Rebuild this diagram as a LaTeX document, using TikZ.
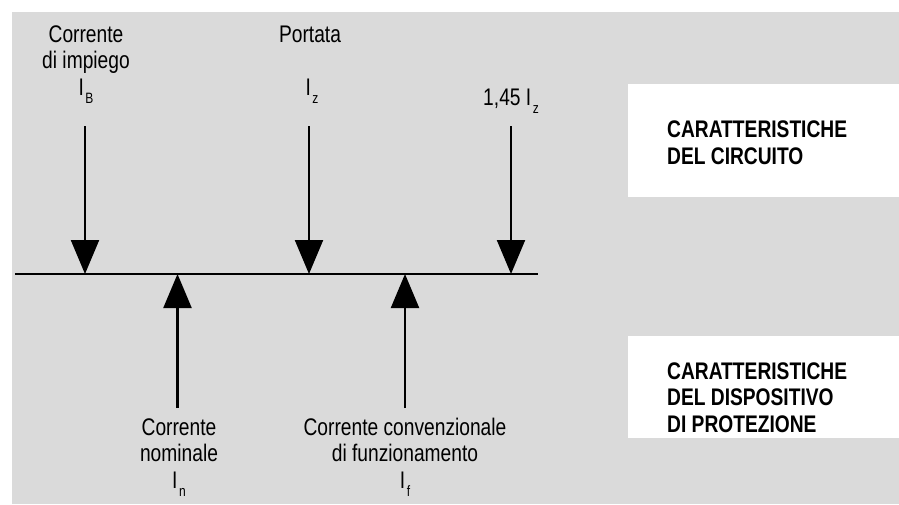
\documentclass[tikz,border=0pt]{standalone}
\usepackage{fontspec}
\setmainfont{Liberation Sans}[FakeStretch=0.8]
\usetikzlibrary{arrows.meta}
\definecolor{fondo}{RGB}{218,218,218}
\newcommand{\pedice}[1]{\kern1.5pt\raisebox{-8pt}{\fontsize{15}{15}\selectfont #1}}

\begin{document}
\begin{tikzpicture}[x=1pt,y=-1pt,
    freccia/.style={line width=2.2pt,-{Triangle[width=28pt,length=34pt]}},
    etichetta/.style={inner sep=0pt,align=center,anchor=base,font=\fontsize{24}{26.5}\selectfont},
    titolo/.style={inner sep=0pt,align=left,anchor=base west,font=\fontsize{24}{26.5}\selectfont\bfseries}]
    \useasboundingbox (0,0) rectangle (899,504);
    \fill[fondo] (12,12) rectangle (899,504);
    \fill[white] (628,84) rectangle (899,197);
    \fill[white] (628,336) rectangle (899,438);
    % asse
    \coordinate (sx) at (15,274);
    \coordinate (dx) at (538,274);
    \draw[line width=2.5pt] (sx) -- (dx);
    % caratteristiche del circuito
    \coordinate (IB) at (85,274);
    \coordinate (Iz) at (309,274);
    \coordinate (If145) at (511,274);
    \coordinate (IBtop) at (85,126);
    \coordinate (Iztop) at (309,126);
    \coordinate (If145top) at (511,126);
    \draw[freccia] (IBtop) -- (IB);
    \draw[freccia] (Iztop) -- (Iz);
    \draw[freccia] (If145top) -- (If145);
    % (base = ultima riga)
    \node[etichetta] (lIB) at (86,95) {Corrente\\di impiego\\I\pedice{B}};
    \node[etichetta] (lport) at (310,42) {Portata};
    \node[etichetta] (lIz) at (312,95) {I\pedice{z}};
    \node[etichetta] (l145) at (511,105) {1,45 I\pedice{z}};
    % caratteristiche del dispositivo
    \coordinate (In) at (177.5,274);
    \coordinate (If) at (405,274);
    \coordinate (Inbot) at (177.5,408);
    \coordinate (Ifbot) at (405,408);
    \draw[freccia] (Inbot) -- (In);
    \draw[freccia] (Ifbot) -- (If);
    \node[etichetta] (lIn) at (179,488) {Corrente\\nominale\\I\pedice{n}};
    \node[etichetta] (lIf) at (405,488) {Corrente convenzionale\\di funzionamento\\I\pedice{f}};
    % riquadri
    \node[titolo] (circuito) at (667,164) {CARATTERISTICHE\\DEL CIRCUITO};
    \node[titolo] (dispositivo) at (667,432) {CARATTERISTICHE\\DEL DISPOSITIVO\\DI PROTEZIONE};
\end{tikzpicture}
\end{document}
